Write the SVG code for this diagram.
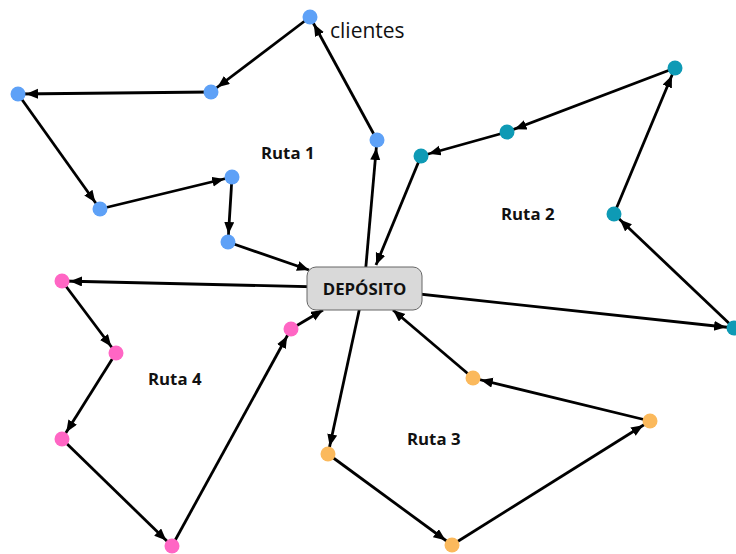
<svg xmlns="http://www.w3.org/2000/svg" width="736" height="554" viewBox="0 0 736 554">
<style>
.e{stroke:#000;stroke-width:2.8;fill:none}
.n{marker-end:url(#a)}
.d{marker-end:url(#b)}
.blue{fill:#5ea1f7}
.teal{fill:#0e9ab5}
.orange{fill:#fbb95c}
.pink{fill:#ff66c4}
.lbl{font-family:"Open Sans","Liberation Sans",sans-serif;font-weight:bold;font-size:16.8px;fill:#111}
</style>
<defs>
<marker id="a" markerUnits="userSpaceOnUse" markerWidth="22" markerHeight="11" refX="20" refY="5" orient="auto"><path d="M0,0 L12,5 L0,10 z" fill="#000"/></marker>
<marker id="b" markerUnits="userSpaceOnUse" markerWidth="13" markerHeight="11" refX="12" refY="5" orient="auto"><path d="M0,0 L12,5 L0,10 z" fill="#000"/></marker>
</defs>
<rect width="736" height="554" fill="#fff"/>
<g id="connectors">
<line class="e n" x1="364" y1="288" x2="377" y2="140"/>
<line class="e n" x1="377" y1="140" x2="310" y2="17"/>
<line class="e n" x1="310" y1="17" x2="211" y2="92"/>
<line class="e n" x1="211" y1="92" x2="18" y2="94"/>
<line class="e n" x1="18" y1="94" x2="100" y2="209"/>
<line class="e n" x1="100" y1="209" x2="232" y2="177"/>
<line class="e n" x1="232" y1="177" x2="228" y2="242"/>
<line class="e d" x1="228" y1="242" x2="309" y2="270"/>
<line class="e n" x1="364" y1="288" x2="734" y2="328"/>
<line class="e n" x1="734" y1="328" x2="614" y2="214"/>
<line class="e n" x1="614" y1="214" x2="675" y2="68"/>
<line class="e n" x1="675" y1="68" x2="507" y2="132"/>
<line class="e n" x1="507" y1="132" x2="421" y2="156"/>
<line class="e d" x1="421" y1="156" x2="376" y2="265"/>
<line class="e n" x1="364" y1="288" x2="328" y2="454"/>
<line class="e n" x1="328" y1="454" x2="452" y2="545"/>
<line class="e n" x1="452" y1="545" x2="650" y2="421"/>
<line class="e n" x1="650" y1="421" x2="473" y2="378"/>
<line class="e d" x1="473" y1="378" x2="393" y2="310"/>
<line class="e n" x1="364" y1="288" x2="62" y2="281"/>
<line class="e n" x1="62" y1="281" x2="116" y2="353"/>
<line class="e n" x1="116" y1="353" x2="62" y2="439"/>
<line class="e n" x1="62" y1="439" x2="172" y2="546"/>
<line class="e n" x1="172" y1="546" x2="291" y2="329"/>
<line class="e d" x1="291" y1="329" x2="323" y2="310"/>
</g>
<g id="depot">
<rect x="307" y="267" width="115" height="43" rx="9" fill="#d9d9d9" stroke="#666" stroke-width="1"/>
<text class="lbl" x="364.5" y="294.5" text-anchor="middle">DEPÓSITO</text>
</g>
<g id="ruta1">
<circle id="c1a" class="blue" cx="310" cy="17" r="7.5"/>
<circle id="c1b" class="blue" cx="211" cy="92" r="7.5"/>
<circle id="c1c" class="blue" cx="18" cy="94" r="7.5"/>
<circle id="c1d" class="blue" cx="100" cy="209" r="7.5"/>
<circle id="c1e" class="blue" cx="232" cy="177" r="7.5"/>
<circle id="c1f" class="blue" cx="228" cy="242" r="7.5"/>
<circle id="c1g" class="blue" cx="377" cy="140" r="7.5"/>
<text class="lbl" x="261" y="159">Ruta 1</text>
</g>
<g id="ruta2">
<circle id="c2h" class="teal" cx="421" cy="156" r="7.5"/>
<circle id="c2i" class="teal" cx="507" cy="132" r="7.5"/>
<circle id="c2j" class="teal" cx="675" cy="68" r="7.5"/>
<circle id="c2k" class="teal" cx="614" cy="214" r="7.5"/>
<circle id="c2l" class="teal" cx="734" cy="328" r="7.5"/>
<text class="lbl" x="501" y="220">Ruta 2</text>
</g>
<g id="ruta3">
<circle id="c3m" class="orange" cx="328" cy="454" r="7.5"/>
<circle id="c3n" class="orange" cx="452" cy="545" r="7.5"/>
<circle id="c3o" class="orange" cx="650" cy="421" r="7.5"/>
<circle id="c3p" class="orange" cx="473" cy="378" r="7.5"/>
<text class="lbl" x="407" y="445">Ruta 3</text>
</g>
<g id="ruta4">
<circle id="c4q" class="pink" cx="62" cy="281" r="7.5"/>
<circle id="c4r" class="pink" cx="116" cy="353" r="7.5"/>
<circle id="c4s" class="pink" cx="62" cy="439" r="7.5"/>
<circle id="c4t" class="pink" cx="172" cy="546" r="7.5"/>
<circle id="c4u" class="pink" cx="291" cy="329" r="7.5"/>
<text class="lbl" x="148" y="385">Ruta 4</text>
</g>
<g id="legend">
<text x="330" y="38" font-family="'Open Sans','Liberation Sans',sans-serif" font-size="21" fill="#111">clientes</text>
</g>
</svg>
